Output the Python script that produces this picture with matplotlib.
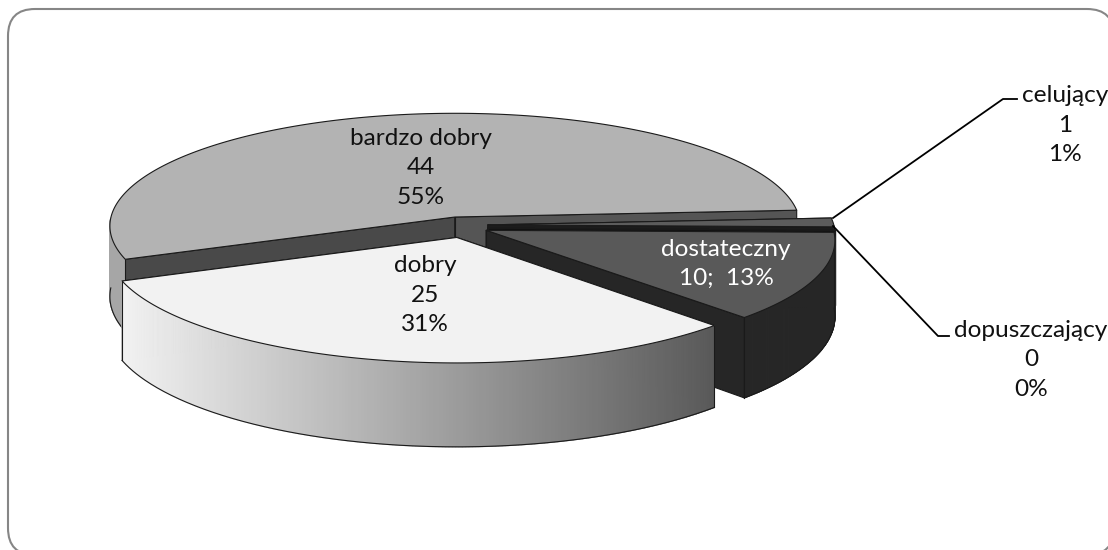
import numpy as np
import matplotlib
matplotlib.use("Agg")
import matplotlib.pyplot as plt
from matplotlib.patches import FancyBboxPatch, Polygon
from matplotlib.colors import to_rgb

names = ["bardzo dobry", "celujący", "dopuszczający", "dostateczny", "dobry"]
values = [44, 1, 0, 10, 25]

total = sum(values)
START = 201.5
CX, CY, RX, RY, K = 455.0, 217.0, 344.0, 112.0, 0.08

offsets = {"bardzo dobry": (0.0, 0.0), "celujący": (0.095, -0.07),
           "dopuszczający": (0.095, -0.10), "dostateczny": (0.09, -0.118),
           "dobry": (0.005, -0.18)}
depths = {"bardzo dobry": 70, "celujący": 74, "dopuszczający": 74, "dostateczny": 75, "dobry": 76}
tops = {"bardzo dobry": "#b3b3b3", "celujący": "#5c5c5c", "dopuszczający": "#111111",
        "dostateczny": "#595959", "dobry": "#f2f2f2"}
sides = {"bardzo dobry": ("#a6a6a6", "#a6a6a6"), "celujący": ("#262626", "#262626"),
         "dopuszczający": ("#111111", "#111111"), "dostateczny": ("#262626", "#262626"),
         "dobry": ("#f2f2f2", "#595959")}
cuts = {"bardzo dobry": ("#494949", "#555555"), "celujący": ("#1c1c1c", "#1c1c1c"),
        "dopuszczający": ("#111111", "#111111"), "dostateczny": ("#262626", "#262626"),
        "dobry": ("#595959", "#595959")}
label_pos = {"bardzo dobry": (421, 168), "dobry": (425, 295), "dostateczny": (726, 264),
             "celujący": (1065, 125), "dopuszczający": (1031, 360)}


def project(X, Y, z=0.0):
    s = 1.0 / (1.0 + K * Y)
    return CX + RX * X * s, CY - RY * Y * s + z * s


fig = plt.figure(figsize=(11.08, 5.5), dpi=100)
ax = fig.add_axes([0, 0, 1, 1])
ax.set_xlim(0, 1108)
ax.set_ylim(550, 0)
ax.axis("off")

ax.add_patch(FancyBboxPatch((8, 9), 1106, 546, boxstyle="round,pad=0,rounding_size=27",
                            fc="white", ec="#868686", lw=1.5, zorder=0))


def draw_slice(name, a0, a1, zbase):
    ox, oy = offsets[name]
    d = depths[name]
    n = max(int(abs(a0 - a1) * 2), 2)
    th = np.radians(np.linspace(a0, a1, n))
    X, Y = np.cos(th) + ox, np.sin(th) + oy
    ax_, ay_ = project(ox, oy)
    bx_, by_ = project(ox, oy, d)
    x0, y0 = project(X, Y)
    x1, y1 = project(X, Y, d)
    edge = dict(ec="#1a1a1a", lw=0.8, joinstyle="round")
    c0, c1 = cuts[name]
    for i, c in ((0, c0), (-1, c1)):
        ax.add_patch(Polygon([(ax_, ay_), (x0[i], y0[i]), (x1[i], y1[i]), (bx_, by_)],
                             fc=c, zorder=zbase, **edge))
    ax.plot([ax_, bx_], [ay_, by_], color="#1a1a1a", lw=0.8, zorder=zbase + 0.1)
    cA, cB = np.array(to_rgb(sides[name][0])), np.array(to_rgb(sides[name][1]))
    front = np.sin(th) <= 0.0
    lo, hi = x0.min(), x0.max()
    for i in range(n - 1):
        if not (front[i] and front[i + 1]):
            continue
        t = ((x0[i] + x0[i + 1]) / 2 - lo) / max(hi - lo, 1)
        col = tuple(cA + (cB - cA) * t)
        ax.add_patch(Polygon([(x0[i], y0[i]), (x0[i + 1], y0[i + 1]),
                              (x1[i + 1], y1[i + 1]), (x1[i], y1[i])],
                             fc=col, ec=col, lw=0.9, zorder=zbase + 0.2))
    ax.plot(x1[front], y1[front], color="#1a1a1a", lw=0.8, zorder=zbase + 0.3)
    for i in (0, -1):
        if front[i]:
            ax.plot([x0[i], x1[i]], [y0[i], y1[i]], color="#1a1a1a", lw=0.8, zorder=zbase + 0.3)
    pts = [(ax_, ay_)] + list(zip(x0, y0))
    ax.add_patch(Polygon(pts, fc=tops[name], zorder=zbase + 0.4, **edge))


angle = START
for k, (nm, v) in enumerate(zip(names, values)):
    sweep = v / total * 360.0
    draw_slice(nm, angle, angle - sweep, 1 + k)
    angle -= sweep

ax.plot([833, 1003, 1017], [218, 99, 99], color="black", lw=1.3, solid_joinstyle="round", zorder=10)
ax.plot([833, 938, 949], [226, 336, 336], color="black", lw=1.3, solid_joinstyle="round", zorder=10)

font = dict(family="Lato", fontsize=17.6, ha="center", va="center", linespacing=1.5, zorder=11)
for nm, v in zip(names, values):
    pct = int(v / total * 100 + 0.5)
    if nm == "dostateczny":
        txt, col = f"{nm}\n{v};  {pct}%", "white"
    else:
        txt, col = f"{nm}\n{v}\n{pct}%", "#111111"
    x, y = label_pos[nm]
    ax.text(x, y, txt, color=col, **font)

fig.savefig("out.png", dpi=100, facecolor="white")
